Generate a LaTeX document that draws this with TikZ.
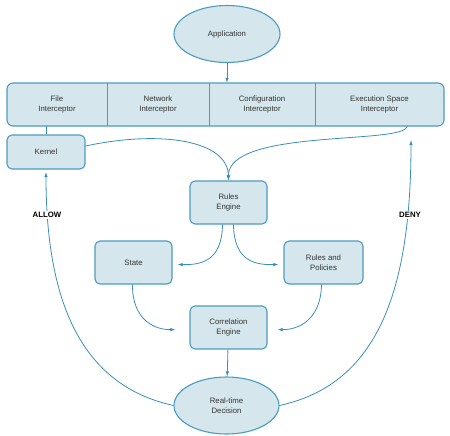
\documentclass[tikz,border=0pt]{standalone}
\usepackage{fontspec}
\setmainfont{Liberation Sans}
\usepackage{tikz}
\usetikzlibrary{arrows.meta}
\usetikzlibrary{shapes.geometric}
\usetikzlibrary{calc}

\definecolor{boxfill}{HTML}{D5E6EC}
\definecolor{boxedge}{HTML}{4B9CC0}
\definecolor{wire}{HTML}{3A8FB7}
\definecolor{ink}{HTML}{333333}

\tikzset{
  box/.style={shape=rectangle,draw=boxedge,fill=boxfill,line width=1.1pt,rounded corners=5pt,
    minimum width=77pt,minimum height=43pt,align=center,text=ink,font=\fontsize{7.8}{10.5}\selectfont},
  oval/.style={shape=ellipse,draw=boxedge,fill=boxfill,line width=1.1pt,
    minimum width=106pt,minimum height=57pt,align=center,text=ink,font=\fontsize{7.8}{10.5}\selectfont},
  part/.style={shape=rectangle,minimum height=43pt,align=center,text=ink,inner sep=0pt,
    font=\fontsize{7.8}{10.5}\selectfont},
  wire/.style={draw=wire,line width=0.8pt},
  arr/.style={wire,-{Latex[length=5pt,width=3.5pt]}},
  tag/.style={fill=white,text=black,inner sep=1pt,font=\fontsize{7.8}{10}\selectfont\bfseries}
}

\begin{document}
\begin{tikzpicture}[x=1pt,y=-1pt]
\useasboundingbox (0,0) rectangle (450,436);
\draw (227,34) node (app) [oval] {Application};
\fill[boxfill,draw=boxedge,line width=1.1pt,rounded corners=6pt] (7,83) rectangle (444,126);
\draw (57,104.5) node (file) [part,minimum width=100pt] {File\\Interceptor};
\draw (158,104.5) node (net) [part,minimum width=102pt] {Network\\Interceptor};
\draw (262,104.5) node (conf) [part,minimum width=106pt] {Configuration\\Interceptor};
\draw (379.5,104.5) node (exec) [part,minimum width=129pt] {Execution Space\\Interceptor};
\draw[boxedge,line width=1.1pt] (file.north east) -- (file.south east);
\draw[boxedge,line width=1.1pt] (net.north east) -- (net.south east);
\draw[boxedge,line width=1.1pt] (conf.north east) -- (conf.south east);
\draw (46,152) node (kernel) [box,minimum width=78pt,minimum height=34pt] {Kernel};
\draw (228.5,202.5) node (rules) [box] {Rules\\Engine};
\draw (133.5,262.5) node (state) [box] {State};
\draw (323.5,262.5) node (policy) [box,minimum width=79pt] {Rules and\\Policies};
\draw (228.5,327.5) node (corr) [box] {Correlation\\Engine};
\draw (226.5,405.5) node (decide) [oval,minimum width=105pt] {Real-time\\Decision};
\coordinate (exout) at (407,126);
\coordinate (denyin) at (411,140);
\coordinate (allowin) at (46,172);
% into the interceptors and on to the rules
\draw[arr] (app) -- (app |- file.north);
\draw[wire] (kernel.north) -- (kernel.north |- file.south);
\draw[arr] ($(kernel.east)+(0,-6)$) .. controls (160,130) and (228,140) .. (rules.north);
\draw[arr] (exout) .. controls (407,145) and (228,128) .. (rules.north);
\draw[arr] ($(rules.south)+(-6,0)$) .. controls (222,262) and (200,265) .. ($(state.east)+(5,2)$);
\draw[arr] ($(rules.south)+(5,0)$) .. controls (234,262) and (256,265) .. ($(policy.west)+(-5,2)$);
\draw[arr] ($(state.south)+(-1,0)$) .. controls (132,320) and (155,330) .. ($(corr.west)+(-14,2)$);
\draw[arr] ($(policy.south)+(-2,0)$) .. controls (321,320) and (298,330) .. ($(corr.east)+(10,2)$);
\draw[arr] (corr) -- (decide);
% verdict
\draw[arr] (decide.west) .. controls (80,385) and (46,300) .. (allowin);
\draw[arr] (decide.east) .. controls (373,385) and (411,300) .. (denyin);
\draw (47,215) node (allow) [tag] {ALLOW};
\draw (410,215) node (deny) [tag] {DENY};
\end{tikzpicture}
\end{document}
